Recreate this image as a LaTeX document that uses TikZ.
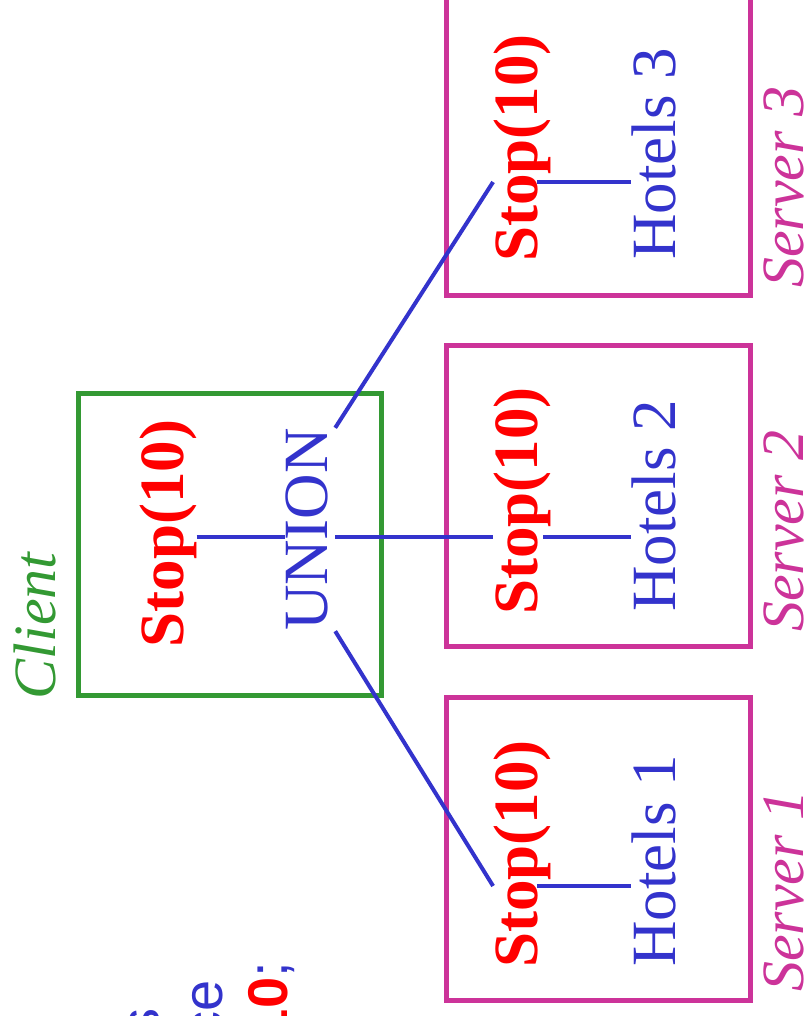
\documentclass[tikz,border=0pt]{standalone}
\usepackage{fontspec}
\setmainfont{Liberation Serif}
\newfontfamily\codefont{Liberation Sans}
\definecolor{opblue}{HTML}{3333CC}
\definecolor{stopred}{HTML}{FF0000}
\definecolor{srvmag}{HTML}{CC3399}
\definecolor{cligreen}{HTML}{339933}
\tikzset{
  lbl/.style={rotate=90, anchor=base, inner sep=0pt, font=\fontsize{63}{70}\selectfont},
  stopop/.style={lbl, text=stopred, font=\fontsize{63}{70}\selectfont\bfseries},
  tableop/.style={lbl, text=opblue},
  sitelbl/.style={rotate=90, anchor=base, inner sep=0pt, font=\fontsize{60}{66}\selectfont\itshape},
  link/.style={draw=opblue, line width=4pt},
  srvbox/.style={draw=srvmag, line width=4.5pt},
  clibox/.style={draw=cligreen, line width=5pt},
  codeline/.style={rotate=90, anchor=base east, inner sep=0pt, text=opblue,
    font=\codefont\fontsize{56}{62}\selectfont}
}
\begin{document}
\begin{tikzpicture}[x=1pt, y=-1pt]
\useasboundingbox (0,0) rectangle (810,1016);
\clip (0,0) rectangle (810,1016);

% site frames
\draw[clibox] (78.5,393) rectangle (381,695.5);
\draw[srvbox] (446.5,697.5) rectangle (750.5,1000.5);
\draw[srvbox] (446.5,345.5) rectangle (750.5,646.5);
\draw[srvbox] (446.5,-7) rectangle (750.5,295.5);

% site names
\node[sitelbl, text=cligreen] (client) at (55,626) {Client};
\node[sitelbl, text=srvmag] (srv1) at (803,891) {Server 1};
\node[sitelbl, text=srvmag] (srv2) at (803,531) {Server 2};
\node[sitelbl, text=srvmag] (srv3) at (803,187) {Server 3};

% client plan
\node[stopop] (cstop) at (183,533.5) {Stop(10)};
\node[tableop, text depth=8pt] (union) at (327,529.5) {UNION};

% server plans
\node[stopop] (s1) at (537,854) {Stop(10)};
\node[tableop] (h1) at (675,861) {Hotels 1};
\node[stopop] (s2) at (537,501) {Stop(10)};
\node[tableop] (h2) at (675,506) {Hotels 2};
\node[stopop] (s3) at (537,148) {Stop(10)};
\node[tableop] (h3) at (675,154) {Hotels 3};

% heights of the plan edges
\coordinate (j1) at (0,886);
\coordinate (j2) at (0,537);
\coordinate (j3) at (0,182);

% plan edges
\draw[link] (cstop.south |- j2) -- (union.north |- j2);
\draw[link] (union.south |- j2) -- (s2.north |- j2);
\draw[link] (union.south east) -- (s3.north |- j3);
\draw[link] (union.south west) -- (s1.north |- j1);
\draw[link] (s1.base |- j1) -- (h1.north |- j1);
\draw[link] ([xshift=6pt]s2.base |- j2) -- (h2.north |- j2);
\draw[link] (s3.base |- j3) -- (h3.north |- j3);

% query text running along the lower edge
\node[codeline] (q1) at (159,1008) {s};
\node[codeline] (q2) at (222,980) {ce};
\node[codeline] (q3) at (287,962) {{\bfseries\color{stopred}10};};
\end{tikzpicture}
\end{document}
